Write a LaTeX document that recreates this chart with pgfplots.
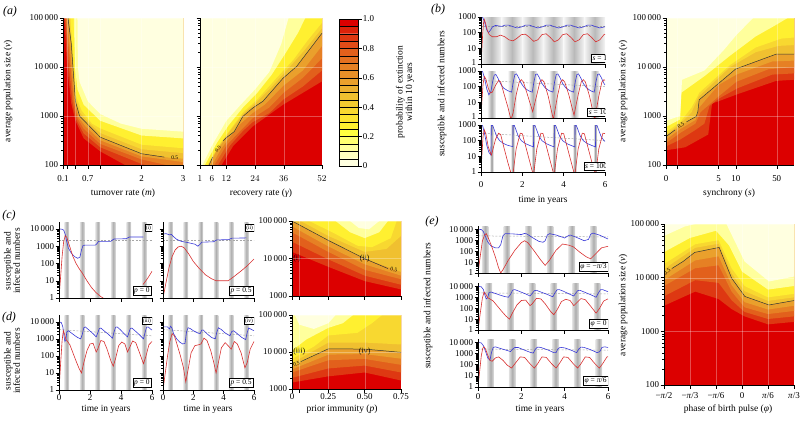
\documentclass[border=0pt]{standalone}
\usepackage{fontspec}
\setmainfont{Liberation Serif}
\usepackage{pgfplots}
\pgfplotsset{compat=1.18}
\definecolor{cb0}{HTML}{FFFFE0}
\definecolor{cb1}{HTML}{FFFFC0}
\definecolor{cb2}{HTML}{FFFF9C}
\definecolor{cb3}{HTML}{FFFF70}
\definecolor{cb4}{HTML}{FFFF40}
\definecolor{cb5}{HTML}{FFF030}
\definecolor{cb6}{HTML}{FCE430}
\definecolor{cb7}{HTML}{F8D830}
\definecolor{cb8}{HTML}{F4CC30}
\definecolor{cb9}{HTML}{F0C030}
\definecolor{cb10}{HTML}{ECB030}
\definecolor{cb11}{HTML}{EAA02C}
\definecolor{cb12}{HTML}{E89028}
\definecolor{cb13}{HTML}{E68024}
\definecolor{cb14}{HTML}{E47020}
\definecolor{cb15}{HTML}{E2601C}
\definecolor{cb16}{HTML}{E04C18}
\definecolor{cb17}{HTML}{DE3812}
\definecolor{cb18}{HTML}{DC220A}
\definecolor{cb19}{HTML}{DC0000}
\definecolor{sblue}{HTML}{3A3AD8}
\definecolor{sred}{HTML}{D83030}
\newcommand\band[2]{\addplot[fill=#1,draw=none] coordinates {#2};}
\newcommand\stripe[5]{\addplot[draw=none,left color=#4,right color=#4,middle color=#3] coordinates {(#1,0.01) (#2,0.01) (#2,1e7) (#1,1e7)};}
\newcommand\cbr[3]{\addplot[fill=#1,draw=black,line width=0.3pt] coordinates {(0,#2) (1,#2) (1,#3) (0,#3) (0,#2)};}
\newcommand\fs[1]{\fontsize{#1}{#1}\selectfont}
\tikzset{
  lbox/.style={draw, fill=white, inner sep=1.3bp, font=\fs{7.5}, line width=0.4pt},
  sbox/.style={draw, fill=white, inner sep=0.8bp, font=\fs{5.5}, line width=0.4pt},
}
\pgfplotsset{
  pbase/.style={scale only axis, anchor=north west, axis lines*=left, tick align=outside,
    major tick length=3.5bp, minor tick length=2bp, tick style={black,line width=0.4pt},
    axis line style={line width=0.4pt}, font=\fs{9},
    xticklabel style={inner sep=1bp}, yticklabel style={inner sep=1.2bp}, clip=true, axis on top},
  pheat/.style={pbase, grid=major, major grid style={white, opacity=0.3, line width=0.3pt}},
  pts/.style={pbase, xmin=0, xmax=6, xtick={0,2,4,6}},
  pts4/.style={pts, ymin=1, ymax=25000, ytick={1,10,100,1000,10000}, yticklabels={1,10,100,1000,10\,000}},
  pts5/.style={pts, ymin=1, ymax=20000, ytick={1,10,100,1000,10000}, yticklabels={1,10,100,1000,10\,000}},
  sb/.style={line width=0.6pt, sblue},
  sr/.style={line width=0.6pt, sred},
  dsh/.style={gray!70, line width=0.5pt, dash pattern=on 2pt off 1.5pt},
}
\begin{document}
\begin{tikzpicture}[x=1bp,y=1bp]
\useasboundingbox (0,0) rectangle (800,-422);
% ================= (a) left heat map
\begin{axis}[pheat, ymode=log, at={(63bp,-18bp)}, width=120bp, height=147bp, xmin=0.1, xmax=3, ymin=100, ymax=100000,
  xtick={0.1,0.2,0.4,0.7,1,2,3}, xticklabels={0.1,,,0.7,,2,3}, xticklabel style={yshift=-6bp},
  ytick={100,1000,10000,100000}, yticklabels={100,1000,10\,000,100\,000}]
\band{cb19}{(0.1,100) (3,100) (3,100000) (0.1,100000)}
\band{cb17}{(0.13,100000) (0.2,10000) (0.3,1800) (0.4,800) (0.6,350) (1,190) (1.6,100) (3,100) (3,100000)}
\band{cb15}{(0.15,100000) (0.24,10000) (0.33,1900) (0.42,850) (0.6,440) (1,230) (2,105) (2.1,100) (3,100) (3,100000)}
\band{cb13}{(0.17,100000) (0.28,10000) (0.36,2000) (0.45,900) (0.6,550) (1,270) (2,130) (2.6,100) (3,100) (3,100000)}
\band{cb11}{(0.195,100000) (0.31,10000) (0.38,2000) (0.47,950) (0.64,620) (1,320) (2,150) (3,115) (3,100000)}
\band{cb9}{(0.22,100000) (0.3,30000) (0.34,10000) (0.4,2000) (0.5,1000) (0.68,700) (1,370) (2,170) (2.7,140) (3,135) (3,100000)}
\band{cb7}{(0.25,100000) (0.35,10000) (0.41,2200) (0.52,1150) (0.75,700) (1,450) (2,210) (3,175) (3,100000)}
\band{cb5}{(0.28,100000) (0.36,10000) (0.42,2500) (0.55,1300) (0.8,700) (1,560) (2,260) (3,220) (3,100000)}
\band{cb2}{(0.36,100000) (0.39,10000) (0.45,3500) (0.6,1700) (1,800) (2,400) (3,350) (3,100000)}
\band{cb0}{(0.45,100000) (0.46,10000) (0.5,5000) (0.7,2000) (1,1100) (1.5,700) (2,550) (3,480) (3,100000)}
\addplot[black!80,line width=0.5pt] coordinates {(0.22,100000) (0.3,30000) (0.34,10000) (0.4,2000) (0.5,1000) (0.68,700) (1,370) (2,170) (2.55,145)};
\node[font=\fs{5.5}] at (axis cs:2.8,140) {0.5};
\end{axis}
% ================= (a) middle heat map
\begin{axis}[pheat, ymode=log, at={(200bp,-18bp)}, width=122bp, height=147bp, xmin=1, xmax=52, ymin=100, ymax=100000,
  xtick={1,6,12,24,36,52}, xticklabel style={yshift=-6bp}, ytick={100,1000,10000,100000}, yticklabels={}]
\band{cb19}{(1,100) (52,100) (52,100000) (1,100000)}
\band{cb17}{(10,100) (15,250) (23,610) (35.7,1700) (52,5100) (52,100000) (1,100000) (1,100)}
\band{cb15}{(8.5,100) (13.5,250) (19,500) (23,750) (30,1150) (36,2200) (44,4000) (52,8500) (52,100000) (1,100000) (1,100)}
\band{cb13}{(7,100) (12,250) (17,450) (23,900) (30,1500) (36,3000) (44,6000) (52,15000) (52,100000) (1,100000) (1,100)}
\band{cb11}{(6,100) (10,220) (14,400) (18,700) (23,1150) (28,1700) (36,4200) (44,8500) (52,27000) (52,100000) (1,100000) (1,100)}
\band{cb9}{(4.8,100) (8,200) (11.8,355) (15.3,480) (18.9,980) (23,1450) (27.3,2000) (35.7,5900) (41.4,10300) (52,49000) (52,100000) (1,100000) (1,100)}
\band{cb7}{(4.4,100) (8.5,230) (13,460) (19,1100) (24,1800) (30,3500) (38,9500) (45,23000) (52,62000) (52,100000) (1,100000) (1,100)}
\band{cb5}{(4,100) (9,260) (14,560) (19,1200) (25,2200) (33,6000) (40,14000) (46,35000) (52,80000) (52,100000) (1,100000) (1,100)}
\band{cb2}{(3,100) (8,280) (13,650) (19,1500) (25,3000) (31,7000) (37,20000) (42,50000) (45,100000) (1,100000) (1,100)}
\band{cb0}{(2,100) (6,250) (12,800) (18,1700) (24,3500) (30,8000) (35,30000) (38,100000) (1,100000) (1,100)}
\addplot[black!80,line width=0.5pt] coordinates {(4.8,100) (6.3,145)};
\addplot[black!80,line width=0.5pt] coordinates {(10.7,310) (11.8,355) (15.3,480) (18.9,980) (23,1450) (27.3,2000) (35.7,5900) (41.4,10300) (52,49000)};
\node[font=\fs{5},rotate=50,inner sep=0pt] at (axis cs:8.5,210) {0.5};
\end{axis}
% ================= colour bar
\begin{axis}[pbase, at={(339bp,-19bp)}, width=19bp, height=147bp, xmin=0, xmax=1, ymin=0, ymax=1,
  axis x line=none, axis y line*=right, ytick={0,0.2,0.4,0.6,0.8,1}, yticklabels={0,0.2,0.4,0.6,0.8,1.0}]
\cbr{cb0}{0}{0.05}\cbr{cb1}{0.05}{0.1}\cbr{cb2}{0.1}{0.15}\cbr{cb3}{0.15}{0.2}\cbr{cb4}{0.2}{0.25}
\cbr{cb5}{0.25}{0.3}\cbr{cb6}{0.3}{0.35}\cbr{cb7}{0.35}{0.4}\cbr{cb8}{0.4}{0.45}\cbr{cb9}{0.45}{0.5}
\cbr{cb10}{0.5}{0.55}\cbr{cb11}{0.55}{0.6}\cbr{cb12}{0.6}{0.65}\cbr{cb13}{0.65}{0.7}\cbr{cb14}{0.7}{0.75}
\cbr{cb15}{0.75}{0.8}\cbr{cb16}{0.8}{0.85}\cbr{cb17}{0.85}{0.9}\cbr{cb18}{0.9}{0.95}\cbr{cb19}{0.95}{1}
\end{axis}
% ================= (b) time series
\begin{axis}[pts, ymode=log, at={(481bp,-17bp)}, width=124bp, height=47bp, ymin=1, ymax=1000, ytick={1,10,100,1000}, yticklabels={\raisebox{2bp}{1},10,100,1000}, xticklabels={}]
\stripe{0}{1}{gray!55}{gray!8}{}\stripe{1}{2}{gray!55}{gray!8}{}\stripe{2}{3}{gray!55}{gray!8}{}
\stripe{3}{4}{gray!55}{gray!8}{}\stripe{4}{5}{gray!55}{gray!8}{}\stripe{5}{6}{gray!55}{gray!8}{}
\addplot[dsh] coordinates {(0,260) (6,260)};
\addplot[sb] coordinates {(0,1000) (0.08,950) (0.18,450) (0.28,150) (0.36,100) (0.45,140) (0.55,230) (0.7,290) (0.85,270) (1.0,250) (1.15,300) (1.35,300) (1.55,240) (1.75,200) (1.95,230) (2.15,300) (2.35,300) (2.55,240) (2.75,200) (2.95,230) (3.15,300) (3.35,300) (3.55,240) (3.75,200) (3.95,230) (4.15,300) (4.35,300) (4.55,240) (4.75,200) (4.95,230) (5.15,300) (5.35,300) (5.55,240) (5.75,200) (5.95,230) (6,240)};
\addplot[sr] coordinates {(0,1) (0.04,8) (0.08,80) (0.12,400) (0.16,700) (0.22,400) (0.3,150) (0.4,75) (0.55,55) (0.75,55) (0.95,70) (1.15,55) (1.35,35) (1.55,30) (1.75,45) (1.95,75) (2.15,80) (2.35,50) (2.55,28) (2.75,35) (2.95,75) (3.15,85) (3.35,50) (3.55,26) (3.75,35) (3.95,75) (4.15,85) (4.35,50) (4.55,26) (4.75,35) (4.95,75) (5.15,85) (5.35,50) (5.55,26) (5.75,35) (5.95,75) (6,80)};
\node[lbox, anchor=south east] at (rel axis cs:1.03,0.04) {\textit{s} = 1};
\end{axis}
\begin{axis}[pts, ymode=log, at={(481bp,-71bp)}, width=124bp, height=47bp, ymin=1, ymax=1000, ytick={1,10,100,1000}, yticklabels={\raisebox{2bp}{1},10,100,\raisebox{-2bp}{1000}}, xticklabels={}]
\stripe{0.3}{0.72}{gray!65}{gray!5}{}\stripe{1.3}{1.72}{gray!65}{gray!5}{}\stripe{2.3}{2.72}{gray!65}{gray!5}{}
\stripe{3.3}{3.72}{gray!65}{gray!5}{}\stripe{4.3}{4.72}{gray!65}{gray!5}{}\stripe{5.3}{5.72}{gray!65}{gray!5}{}
\addplot[dsh] coordinates {(0,250) (6,100)};
\addplot[sb] coordinates {(0,1000) (0.08,900) (0.18,300) (0.28,70) (0.38,30) (0.48,50) (0.56,200) (0.64,550) (0.72,600) (0.82,350) (0.95,150) (1.1,80) (1.3,55) (1.48,45) (1.56,200) (1.64,600) (1.72,650) (1.82,380) (1.95,160) (2.1,85) (2.3,55) (2.48,45) (2.56,200) (2.64,600) (2.72,650) (2.82,380) (2.95,160) (3.1,85) (3.3,55) (3.48,45) (3.56,200) (3.64,600) (3.72,650) (3.82,380) (3.95,160) (4.1,85) (4.3,55) (4.48,45) (4.56,200) (4.64,600) (4.72,650) (4.82,380) (4.95,160) (5.1,85) (5.3,55) (5.48,45) (5.56,200) (5.64,600) (5.72,650) (5.82,380) (5.95,160) (6,130)};
\addplot[sr] coordinates {(0,1) (0.04,10) (0.1,150) (0.16,450) (0.24,300) (0.35,80) (0.45,40) (0.55,45) (0.7,120) (0.85,250) (0.95,200) (1.1,40) (1.3,5) (1.45,0.8) (1.55,2) (1.7,30) (1.85,200) (1.95,280) (2.05,200) (2.25,30) (2.5,2.5) (2.7,30) (2.85,200) (2.95,280) (3.05,200) (3.25,25) (3.5,0.8) (3.7,25) (3.85,200) (3.95,280) (4.05,200) (4.25,30) (4.5,1.5) (4.7,30) (4.85,200) (4.95,280) (5.05,200) (5.25,25) (5.5,0.8) (5.7,25) (5.85,200) (5.95,280) (6,250)};
\node[lbox, anchor=south east] at (rel axis cs:1.03,0.04) {\textit{s} = 10};
\end{axis}
\begin{axis}[pts, ymode=log, at={(481bp,-125bp)}, width=124bp, height=47bp, ymin=1, ymax=1000, ytick={1,10,100,1000}, yticklabels={1,10,100,\raisebox{-2bp}{1000}}, xticklabels={0,2,4,6}, xticklabel style={yshift=-5bp}]
\stripe{0.42}{0.6}{gray!85}{gray!8}{}\stripe{1.44}{1.62}{gray!85}{gray!8}{}\stripe{2.44}{2.62}{gray!85}{gray!8}{}
\stripe{3.44}{3.62}{gray!85}{gray!8}{}\stripe{4.44}{4.62}{gray!85}{gray!8}{}\stripe{5.44}{5.62}{gray!85}{gray!8}{}
\addplot[dsh] coordinates {(0,300) (6,100)};
\addplot[sb] coordinates {(0,1000) (0.08,900) (0.18,250) (0.28,50) (0.38,18) (0.48,12) (0.5,1000) (0.56,950) (0.64,500) (0.75,200) (0.9,100) (1.1,65) (1.3,50) (1.54,42) (1.55,1000) (1.61,950) (1.69,500) (1.8,200) (1.95,100) (2.15,65) (2.35,50) (2.54,40) (2.55,1000) (2.61,950) (2.69,500) (2.8,200) (2.95,100) (3.15,65) (3.35,50) (3.54,40) (3.55,1000) (3.61,950) (3.69,500) (3.8,200) (3.95,100) (4.15,65) (4.35,50) (4.54,40) (4.55,1000) (4.61,950) (4.69,500) (4.8,200) (4.95,100) (5.15,65) (5.35,50) (5.54,40) (5.55,1000) (5.61,950) (5.69,500) (5.8,200) (5.95,100) (6,90)};
\addplot[sr] coordinates {(0,1) (0.04,10) (0.1,200) (0.16,500) (0.24,250) (0.35,40) (0.5,12) (0.55,20) (0.7,120) (0.85,300) (0.95,250) (1.1,40) (1.3,4) (1.5,0.5) (1.56,1) (1.7,30) (1.9,300) (2.0,280) (2.15,50) (2.35,5) (2.55,0.5) (2.56,1) (2.7,30) (2.9,300) (3.0,280) (3.15,50) (3.35,5) (3.55,0.5) (3.56,1) (3.7,30) (3.9,300) (4.0,280) (4.15,50) (4.35,5) (4.55,0.5) (4.56,1) (4.7,30) (4.9,300) (5.0,280) (5.15,50) (5.35,5) (5.55,0.5) (5.56,1) (5.7,30) (5.9,300) (6,280)};
\node[lbox, anchor=south east] at (rel axis cs:1.03,0.04) {\textit{s} = 100};
\end{axis}
% ================= (b) right heat map
\begin{axis}[pheat, ymode=log, at={(666bp,-18bp)}, width=128bp, height=147bp, xmin=0, xmax=1, ymin=100, ymax=100000,
  xtick={0,0.09,0.41,0.545,0.865}, xticklabels={0,,5,10,50}, xticklabel style={yshift=-6bp},
  ytick={100,1000,10000,100000}, yticklabels={100,1000,10\,000,100\,000}]
\band{cb19}{(0,100) (1,100) (1,100000) (0,100000)}
\band{cb17}{(0,200) (0.15,230) (0.33,420) (0.36,1800) (0.41,2000) (0.56,2800) (0.86,5200) (1,5500) (1,100000) (0,100000)}
\band{cb15}{(0,240) (0.11,330) (0.23,520) (0.3,700) (0.34,1600) (0.41,2250) (0.56,3700) (0.83,7000) (1,7400) (1,100000) (0,100000)}
\band{cb13}{(0,280) (0.11,450) (0.23,700) (0.27,1200) (0.41,2500) (0.55,5000) (0.8,9000) (1,10000) (1,100000) (0,100000)}
\band{cb11}{(0,330) (0.11,540) (0.23,830) (0.26,1500) (0.41,4300) (0.55,7000) (0.83,13000) (1,13500) (1,100000) (0,100000)}
\band{cb9}{(0,380) (0.11,630) (0.236,980) (0.249,1240) (0.259,2140) (0.544,9100) (0.863,18400) (1,18400) (1,100000) (0,100000)}
\band{cb7}{(0,420) (0.11,690) (0.2,1200) (0.255,2500) (0.5,10000) (0.7,20000) (0.88,27000) (1,28000) (1,100000) (0,100000)}
\band{cb5}{(0,470) (0.11,750) (0.2,1500) (0.26,3000) (0.5,11000) (0.7,25000) (0.9,38000) (1,40000) (1,100000) (0,100000)}
\band{cb2}{(0,600) (0.11,850) (0.12,3000) (0.3,6500) (0.5,17000) (0.7,42000) (0.85,70000) (0.95,100000) (0,100000)}
\band{cb0}{(0,800) (0.11,1000) (0.125,5500) (0.3,8500) (0.45,22000) (0.55,45000) (0.68,100000) (0,100000)}
\addplot[black!80,line width=0.5pt] coordinates {(0,380) (0.07,520)};
\addplot[black!80,line width=0.5pt] coordinates {(0.16,760) (0.236,980) (0.249,1240) (0.259,2140) (0.544,9100) (0.863,18400) (1,18400)};
\node[font=\fs{5.5},rotate=33] at (axis cs:0.115,640) {0.5};
\end{axis}
% ================= (c) time series
\begin{axis}[pts4, ymode=log, at={(59bp,-222bp)}, width=93bp, height=76bp, xticklabels={}]
\stripe{0.35}{0.65}{gray!65}{gray!25}{}\stripe{1.35}{1.65}{gray!65}{gray!25}{}\stripe{2.35}{2.65}{gray!65}{gray!25}{}
\stripe{3.35}{3.65}{gray!65}{gray!25}{}\stripe{4.35}{4.65}{gray!65}{gray!25}{}\stripe{5.35}{5.65}{gray!65}{gray!25}{}
\addplot[dsh] coordinates {(0,2200) (6,2200)};
\addplot[sb] coordinates {(0,10000) (0.2,9500) (0.3,8500) (0.4,5000) (0.5,1800) (0.6,800) (0.8,380) (1.0,250) (1.2,200) (1.35,230) (1.45,600) (1.55,1100) (1.7,1150) (2.35,1150) (2.45,1400) (2.55,1900) (3.35,1900) (3.45,2300) (3.55,2600) (4.35,2700) (4.45,3100) (4.55,3400) (5.45,3400)};
\addplot[sr] coordinates {(0,1) (0.1,15) (0.2,250) (0.3,1800) (0.4,4000) (0.5,3300) (0.7,900) (0.9,250) (1.1,100) (1.3,50) (1.5,28) (1.8,10) (2.1,4) (2.4,2) (2.7,1.2) (2.85,1)};
\addplot[sr] coordinates {(5.42,6) (5.7,13) (6,35)};
\node[lbox, anchor=south east] at (rel axis cs:0.99,0.03) {\textit{p} = 0};
\node[sbox, anchor=north east] at (rel axis cs:1.0,0.97) {(i)};
\end{axis}
\begin{axis}[pts4, ymode=log, at={(163bp,-222bp)}, width=91bp, height=76bp, xticklabels={}, yticklabels={}]
\stripe{0.35}{0.65}{gray!65}{gray!25}{}\stripe{1.35}{1.65}{gray!65}{gray!25}{}\stripe{2.35}{2.65}{gray!65}{gray!25}{}
\stripe{3.35}{3.65}{gray!65}{gray!25}{}\stripe{4.35}{4.65}{gray!65}{gray!25}{}\stripe{5.35}{5.65}{gray!65}{gray!25}{}
\addplot[dsh] coordinates {(0,2200) (6,2200)};
\addplot[sb] coordinates {(0,5000) (0.2,5300) (0.35,4800) (0.45,4500) (0.55,4800) (0.7,3500) (0.9,2500) (1.2,1900) (1.5,1700) (1.8,1500) (2.1,1300) (2.3,1000) (2.45,1300) (2.55,1700) (3.35,1800) (3.45,2100) (3.55,2300) (4.35,2400) (4.45,2700) (4.55,2900) (5.5,3000)};
\addplot[sr] coordinates {(0,1) (0.2,8) (0.4,60) (0.6,250) (0.8,600) (1.0,900) (1.2,1000) (1.4,800) (1.7,350) (2.0,130) (2.4,50) (2.8,22) (3.2,13) (3.5,10) (4.3,10) (4.7,18) (5.2,40) (5.6,80) (6,180)};
\node[lbox, anchor=south east] at (rel axis cs:0.99,0.03) {\textit{p} = 0.5};
\node[sbox, anchor=north east] at (rel axis cs:1.0,0.97) {(ii)};
\end{axis}
% ================= (d) time series
\begin{axis}[pts4, ymode=log, at={(59bp,-315bp)}, width=93bp, height=75bp, xticklabels={0,2,4,6}]
\stripe{0.35}{0.65}{gray!65}{gray!25}{}\stripe{1.35}{1.65}{gray!65}{gray!25}{}\stripe{2.35}{2.65}{gray!65}{gray!25}{}
\stripe{3.35}{3.65}{gray!65}{gray!25}{}\stripe{4.35}{4.65}{gray!65}{gray!25}{}\stripe{5.35}{5.65}{gray!65}{gray!25}{}
\addplot[dsh] coordinates {(0,3500) (6,1500)};
\addplot[sb] coordinates {(0,10000) (0.15,9000) (0.25,5000) (0.32,1500) (0.38,700) (0.45,900) (0.5,2500) (0.6,3000) (0.8,2200) (1.0,1600) (1.2,1200) (1.4,1000) (1.5,1800) (1.6,4500) (1.7,5000) (1.9,3500) (2.2,2000) (2.4,1300) (2.5,2200) (2.6,4000) (2.7,4300) (2.9,3000) (3.2,1800) (3.45,1100) (3.55,2500) (3.65,4800) (3.75,5000) (3.95,3500) (4.2,2000) (4.42,1300) (4.5,2200) (4.6,4000) (4.7,4300) (4.9,3000) (5.2,1700) (5.45,1000) (5.55,2300) (5.65,4800) (5.75,5000) (5.95,3500) (6,3300)};
\addplot[sr] coordinates {(0,1) (0.1,30) (0.2,800) (0.28,3000) (0.35,2000) (0.45,900) (0.55,700) (0.7,450) (0.9,150) (1.1,50) (1.3,18) (1.45,10) (1.6,40) (1.8,200) (2.0,500) (2.2,550) (2.4,170) (2.5,250) (2.7,800) (2.9,700) (3.1,250) (3.35,50) (3.5,25) (3.65,70) (3.85,400) (4.05,650) (4.25,500) (4.42,170) (4.55,300) (4.75,750) (4.95,600) (5.2,150) (5.45,35) (5.6,90) (5.8,450) (6,700)};
\node[lbox, anchor=south east] at (rel axis cs:0.99,0.03) {\textit{p} = 0};
\node[sbox, anchor=north east] at (rel axis cs:1.0,0.97) {(iii)};
\end{axis}
\begin{axis}[pts4, ymode=log, at={(163bp,-315bp)}, width=91bp, height=75bp, xticklabels={0,2,4,6}, yticklabels={}]
\stripe{0.35}{0.65}{gray!65}{gray!25}{}\stripe{1.35}{1.65}{gray!65}{gray!25}{}\stripe{2.35}{2.65}{gray!65}{gray!25}{}
\stripe{3.35}{3.65}{gray!65}{gray!25}{}\stripe{4.35}{4.65}{gray!65}{gray!25}{}\stripe{5.35}{5.65}{gray!65}{gray!25}{}
\addplot[dsh] coordinates {(0,3500) (6,1500)};
\addplot[sb] coordinates {(0,5000) (0.3,5000) (0.42,3800) (0.5,5500) (0.58,4500) (0.7,2000) (0.9,1000) (1.1,650) (1.3,500) (1.45,550) (1.55,2500) (1.65,4500) (1.8,4000) (2.0,3000) (2.3,2200) (2.45,2000) (2.55,3200) (2.65,3300) (2.9,2000) (3.2,1200) (3.45,1000) (3.55,2500) (3.65,4500) (3.85,3500) (4.1,2200) (4.42,1500) (4.52,2600) (4.65,3000) (4.9,2000) (5.2,1200) (5.45,900) (5.55,2300) (5.65,4300) (5.85,3500) (6,3000)};
\addplot[sr] coordinates {(0,1) (0.15,10) (0.3,100) (0.45,700) (0.6,2000) (0.75,1500) (0.95,400) (1.15,100) (1.35,20) (1.5,3) (1.65,15) (1.85,150) (2.1,400) (2.35,450) (2.5,500) (2.7,1100) (2.9,800) (3.15,200) (3.35,40) (3.5,10) (3.65,40) (3.85,300) (4.1,600) (4.35,350) (4.5,250) (4.7,700) (4.9,500) (5.15,150) (5.4,20) (5.55,40) (5.75,250) (6,700)};
\node[lbox, anchor=south east] at (rel axis cs:0.99,0.03) {\textit{p} = 0.5};
\node[sbox, anchor=north east] at (rel axis cs:1.0,0.97) {(iv)};
\end{axis}
% ================= (c) heat map
\begin{axis}[pheat, ymode=log, at={(292bp,-221bp)}, width=109bp, height=75bp, xmin=0, xmax=0.75, ymin=1000, ymax=100000,
  xtick={0,0.05,0.25,0.5,0.75}, xticklabels={}, ytick={1000,10000,100000}, yticklabels={1000,10\,000,100\,000}]
\band{cb19}{(0,1000) (0.75,1000) (0.75,100000) (0,100000)}
\band{cb17}{(0,15000) (0.25,6000) (0.5,2500) (0.75,1500) (0.75,100000) (0,100000)}
\band{cb15}{(0,28000) (0.25,9500) (0.5,3500) (0.75,2000) (0.75,100000) (0,100000)}
\band{cb13}{(0,50000) (0.25,15000) (0.5,5000) (0.75,2800) (0.75,100000) (0,100000)}
\band{cb11}{(0,72000) (0.25,21000) (0.5,7000) (0.75,3500) (0.75,100000) (0,100000)}
\band{cb9}{(0,100000) (0.25,30400) (0.5,9900) (0.75,4400) (0.75,100000)}
\band{cb7}{(0.06,100000) (0.25,40000) (0.5,15000) (0.65,18000) (0.75,40000) (0.75,100000)}
\band{cb5}{(0.12,100000) (0.3,45000) (0.45,22000) (0.55,20000) (0.68,35000) (0.72,100000)}
\band{cb2}{(0.3,100000) (0.4,50000) (0.5,35000) (0.6,50000) (0.66,100000)}
\band{cb0}{(0.4,100000) (0.46,65000) (0.53,60000) (0.6,100000)}
\addplot[black!80,line width=0.5pt] coordinates {(0,100000) (0.25,30400) (0.5,9900) (0.66,5400)};
\node[font=\fs{5.5},rotate=-12] at (axis cs:0.7,5000) {0.5};
\node[font=\fs{8}] at (axis cs:0.035,10000) {(i)};
\node[font=\fs{8}] at (axis cs:0.5,10000) {(ii)};
\end{axis}
% ================= (d) heat map
\begin{axis}[pheat, ymode=log, at={(292bp,-315bp)}, width=109bp, height=74bp, xmin=0, xmax=0.75, ymin=1000, ymax=100000,
  xtick={0,0.05,0.25,0.5,0.75}, xticklabels={0,,0.25,0.50,0.75}, ytick={1000,10000,100000}, yticklabels={1000,10\,000,100\,000}]
\band{cb19}{(0,1000) (0.75,1000) (0.75,100000) (0,100000)}
\band{cb17}{(0,1500) (0.25,2200) (0.5,2800) (0.75,1700) (0.75,100000) (0,100000)}
\band{cb15}{(0,2000) (0.25,3600) (0.5,4300) (0.75,2800) (0.75,100000) (0,100000)}
\band{cb13}{(0,2800) (0.25,6000) (0.5,6500) (0.75,4500) (0.75,100000) (0,100000)}
\band{cb11}{(0,3400) (0.25,8500) (0.5,8800) (0.75,6600) (0.75,100000) (0,100000)}
\band{cb9}{(0,4070) (0.25,12200) (0.5,12000) (0.75,9800) (0.75,100000) (0,100000)}
\band{cb7}{(0,5100) (0.25,18000) (0.5,18000) (0.75,16000) (0.75,100000) (0,100000)}
\band{cb5}{(0,6500) (0.15,14000) (0.25,28000) (0.45,33000) (0.55,60000) (0.62,100000) (0,100000)}
\band{cb2}{(0,11000) (0.1,22000) (0.25,45000) (0.35,60000) (0.42,100000) (0,100000)}
\band{cb0}{(0.02,100000) (0.05,55000) (0.15,42000) (0.25,60000) (0.3,100000)}
\addplot[black!80,line width=0.5pt] coordinates {(0.06,5500) (0.25,12200) (0.5,12000) (0.75,9800)};
\node[font=\fs{5.5},rotate=20] at (axis cs:0.03,4700) {0.5};
\node[font=\fs{8}] at (axis cs:0.05,10000) {(iii)};
\node[font=\fs{8}] at (axis cs:0.5,10000) {(iv)};
\end{axis}
% ================= (e) time series
\begin{axis}[pts5, ymode=log, at={(478bp,-226bp)}, width=130bp, height=47bp, xticklabels={}]
\stripe{0.18}{0.48}{gray!65}{gray!25}{}\stripe{1.18}{1.48}{gray!65}{gray!25}{}\stripe{2.18}{2.48}{gray!65}{gray!25}{}
\stripe{3.18}{3.48}{gray!65}{gray!25}{}\stripe{4.18}{4.48}{gray!65}{gray!25}{}\stripe{5.18}{5.48}{gray!65}{gray!25}{}
\addplot[dsh] coordinates {(0,2500) (6,2000)};
\addplot[sb] coordinates {(0,10000) (0.15,9500) (0.25,6000) (0.35,2000) (0.45,700) (0.6,300) (0.8,200) (0.95,200) (1.05,400) (1.15,2500) (1.25,4000) (1.6,3800) (2.0,3300) (2.15,4200) (2.25,3800) (2.5,1800) (2.8,800) (3.0,650) (3.1,900) (3.2,3000) (3.3,4000) (3.6,3000) (4.0,1600) (4.15,2500) (4.25,3000) (4.5,2000) (4.9,900) (5.1,1200) (5.2,3500) (5.3,4500) (5.6,3000) (6,1300)};
\addplot[sr] coordinates {(0,1) (0.1,30) (0.2,800) (0.3,3000) (0.38,4000) (0.45,2200) (0.6,400) (0.8,30) (0.95,3) (1.05,1) (1.15,2) (1.4,15) (1.7,120) (2.0,600) (2.15,900) (2.3,600) (2.6,100) (2.9,15) (3.1,5) (3.3,15) (3.6,120) (3.9,450) (4.2,350) (4.4,250) (4.7,80) (5.0,30) (5.2,20) (5.4,50) (5.7,200) (6,280)};
\node[lbox, anchor=south east] at (rel axis cs:1.0,0.03) {\textit{φ} = −\textit{π}/3};
\end{axis}
\begin{axis}[pts5, ymode=log, at={(478bp,-283bp)}, width=130bp, height=47bp, xticklabels={}]
\stripe{0.35}{0.65}{gray!65}{gray!25}{}\stripe{1.35}{1.65}{gray!65}{gray!25}{}\stripe{2.35}{2.65}{gray!65}{gray!25}{}
\stripe{3.35}{3.65}{gray!65}{gray!25}{}\stripe{4.35}{4.65}{gray!65}{gray!25}{}\stripe{5.35}{5.65}{gray!65}{gray!25}{}
\addplot[dsh] coordinates {(0,2500) (6,2000)};
\addplot[sb] coordinates {(0,10000) (0.15,9000) (0.25,5000) (0.32,1500) (0.38,700) (0.45,900) (0.5,2500) (0.6,3000) (0.8,2200) (1.0,1600) (1.2,1200) (1.4,1000) (1.5,1800) (1.6,4500) (1.7,5000) (1.9,3500) (2.2,2000) (2.4,1300) (2.5,2200) (2.6,4000) (2.7,4300) (2.9,3000) (3.2,1800) (3.45,1100) (3.55,2500) (3.65,4800) (3.75,5000) (3.95,3500) (4.2,2000) (4.42,1300) (4.5,2200) (4.6,4000) (4.7,4300) (4.9,3000) (5.2,1700) (5.45,1000) (5.55,2300) (5.65,4800) (5.75,5000) (5.95,3500) (6,3300)};
\addplot[sr] coordinates {(0,1) (0.1,30) (0.2,800) (0.28,3000) (0.35,2000) (0.45,900) (0.55,700) (0.7,450) (0.9,150) (1.1,50) (1.3,18) (1.45,10) (1.6,40) (1.8,200) (2.0,500) (2.2,550) (2.4,170) (2.5,250) (2.7,800) (2.9,700) (3.1,250) (3.35,50) (3.5,25) (3.65,70) (3.85,400) (4.05,650) (4.25,500) (4.42,170) (4.55,300) (4.75,750) (4.95,600) (5.2,150) (5.45,35) (5.6,90) (5.8,450) (6,700)};
\node[lbox, anchor=south east] at (rel axis cs:1.0,0.03) {\textit{φ} = 0};
\end{axis}
\begin{axis}[pts5, ymode=log, at={(478bp,-339bp)}, width=130bp, height=48bp, xticklabels={0,2,4,6}, xticklabel style={yshift=-2bp}]
\stripe{0.43}{0.73}{gray!65}{gray!25}{}\stripe{1.43}{1.73}{gray!65}{gray!25}{}\stripe{2.43}{2.73}{gray!65}{gray!25}{}
\stripe{3.43}{3.73}{gray!65}{gray!25}{}\stripe{4.43}{4.73}{gray!65}{gray!25}{}\stripe{5.43}{5.73}{gray!65}{gray!25}{}
\addplot[dsh] coordinates {(0,2500) (6,2000)};
\addplot[sb] coordinates {(0,10000) (0.15,9000) (0.25,5000) (0.35,1500) (0.45,400) (0.55,250) (0.62,1200) (0.7,3500) (0.8,4000) (1.0,3000) (1.3,2000) (1.5,1500) (1.6,2500) (1.7,3500) (1.85,3500) (2.1,2200) (2.4,1300) (2.55,1100) (2.65,2500) (2.75,3800) (2.9,3500) (3.2,2200) (3.5,1200) (3.6,1200) (3.7,2800) (3.8,3600) (4.0,3200) (4.3,2000) (4.55,1200) (4.65,2500) (4.75,3800) (4.9,3500) (5.2,2200) (5.5,1200) (5.62,1500) (5.72,3500) (5.85,4000) (6,3500)};
\addplot[sr] coordinates {(0,1) (0.08,30) (0.15,600) (0.22,3000) (0.28,4000) (0.35,2500) (0.45,700) (0.55,250) (0.65,200) (0.8,400) (0.95,500) (1.15,250) (1.35,90) (1.55,50) (1.7,120) (1.95,500) (2.15,450) (2.4,120) (2.6,50) (2.75,120) (2.95,500) (3.15,450) (3.4,120) (3.6,50) (3.75,120) (3.95,500) (4.15,450) (4.4,120) (4.6,50) (4.75,120) (4.95,500) (5.15,450) (5.4,120) (5.6,50) (5.75,120) (5.95,500) (6,520)};
\node[lbox, anchor=south east] at (rel axis cs:1.0,0.03) {\textit{φ} = \textit{π}/6};
\end{axis}
% ================= (e) heat map
\begin{axis}[pheat, ymode=log, at={(664bp,-224bp)}, width=130bp, height=161bp, xmin=-3, xmax=2, ymin=100, ymax=100000,
  xtick={-3,-2,-1,0,1,2}, xticklabels={−\textit{π}/2,−\textit{π}/3,−\textit{π}/6,0,\textit{π}/6,\textit{π}/3}, xticklabel style={yshift=-3bp},
  ytick={100,1000,10000,100000}, yticklabels={100,1000,10\,000,100\,000}]
\band{cb19}{(-3,100) (2,100) (2,100000) (-3,100000)}
\band{cb17}{(-3,3000) (-1.8,5500) (-0.9,4000) (-0.4,2600) (0.1,1900) (1,1350) (2,1500) (2,100000) (-3,100000)}
\band{cb15}{(-3,4500) (-1.8,9000) (-0.9,8000) (-0.4,3800) (0.1,2300) (1,1700) (2,1900) (2,100000) (-3,100000)}
\band{cb13}{(-3,7000) (-1.8,15000) (-0.9,17000) (-0.4,5500) (0.1,2800) (1,2100) (2,2400) (2,100000) (-3,100000)}
\band{cb11}{(-3,9000) (-1.8,21000) (-0.9,25000) (-0.4,7300) (0.1,3500) (1,2550) (2,3000) (2,100000) (-3,100000)}
\band{cb9}{(-3,11500) (-2.78,14000) (-2.27,20000) (-1.82,29600) (-0.88,36600) (-0.4,9800) (0.11,4470) (1.04,3100) (2,3750) (2,100000) (-3,100000)}
\band{cb7}{(-3,14500) (-1.8,36000) (-0.9,43000) (-0.4,12000) (0.1,5600) (1,3700) (2,4300) (2,100000) (-3,100000)}
\band{cb5}{(-3,18000) (-1.8,42000) (-0.9,50000) (-0.4,15000) (0.1,7000) (1,4300) (2,5000) (2,100000) (-3,100000)}
\band{cb2}{(-3,30000) (-2,55000) (-1,75000) (-0.5,40000) (0,13000) (1,6000) (2,7000) (2,100000) (-3,100000)}
\band{cb0}{(-3,100000) (-3,60000) (-2.2,90000) (-1.8,100000)}
\band{cb0}{(-0.6,100000) (-0.2,40000) (0.1,20000) (1.04,8500) (2,10500) (2,100000)}
\addplot[black!80,line width=0.5pt] coordinates {(-2.7,14800) (-2.27,20000) (-1.82,29600) (-0.88,36600) (-0.4,9800) (0.11,4470) (1.04,3100) (2,3750)};
\node[font=\fs{5.5},rotate=35] at (axis cs:-2.88,12800) {0.5};
\end{axis}
% ================= labels
\node[font=\fs{12}\itshape] at (10bp,-12bp) {(a)};
\node[font=\fs{12}\itshape] at (438bp,-10bp) {(b)};
\node[font=\fs{12}\itshape] at (9bp,-216bp) {(c)};
\node[font=\fs{12}\itshape] at (9bp,-318bp) {(d)};
\node[font=\fs{12}\itshape] at (432bp,-222bp) {(e)};
\node[font=\fs{9.5},rotate=90] at (8bp,-91bp) {average population size (\textit{v})};
\node[font=\fs{9.5}] at (123bp,-193bp) {turnover rate (\textit{m})};
\node[font=\fs{9.5}] at (261bp,-193bp) {recovery rate (\textit{γ})};
\node[font=\fs{9.5},rotate=90,align=center] at (405bp,-92bp) {probability of extinction\\within 10 years};
\node[font=\fs{9.5},rotate=90] at (442bp,-94bp) {susceptible and infected numbers};
\node[font=\fs{9.5}] at (543bp,-200bp) {time in years};
\node[font=\fs{9.5},rotate=90] at (623bp,-91bp) {average population size (\textit{v})};
\node[font=\fs{9.5}] at (729bp,-193bp) {synchrony (\textit{s})};
\node[font=\fs{9.5},rotate=90,align=center] at (12bp,-261bp) {susceptible and\\infected numbers};
\node[font=\fs{9.5},rotate=90,align=center] at (12bp,-361bp) {susceptible and\\infected numbers};
\node[font=\fs{9.5}] at (106bp,-409bp) {time in years};
\node[font=\fs{9.5}] at (208bp,-409bp) {time in years};
\node[font=\fs{9.5}] at (342bp,-409bp) {prior immunity (\textit{p})};
\node[font=\fs{9.5},rotate=90] at (428bp,-306bp) {susceptible and infected numbers};
\node[font=\fs{9.5}] at (540bp,-409bp) {time in years};
\node[font=\fs{9.5},rotate=90] at (623bp,-305bp) {average population size (\textit{v})};
\node[font=\fs{9.5}] at (728bp,-409bp) {phase of birth pulse (\textit{φ})};
\end{tikzpicture}
\end{document}
